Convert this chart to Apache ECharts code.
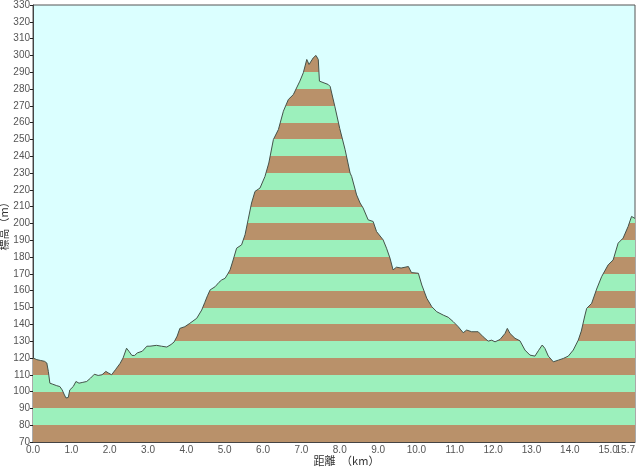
<!DOCTYPE html>
<html>
<head>
<meta charset="utf-8">
<script src="https://cdn.jsdelivr.net/npm/echarts@6/dist/echarts.min.js"></script>
<style>
html,body{margin:0;padding:0;background:#fff;}
#c{width:640px;height:469px;}
</style>
</head>
<body>
<div id="c"></div>
<script>
var distances = [0.00,0.10,0.20,0.30,0.36,0.40,0.44,0.50,0.55,0.62,0.70,0.76,0.82,0.86,0.92,0.96,1.00,1.05,1.12,1.20,1.30,1.40,1.50,1.60,1.70,1.80,1.90,1.97,2.05,2.15,2.27,2.35,2.44,2.50,2.58,2.65,2.72,2.85,2.97,3.05,3.10,3.22,3.35,3.49,3.60,3.68,3.76,3.83,3.96,4.09,4.27,4.40,4.48,4.55,4.62,4.75,4.85,4.92,5.01,5.08,5.14,5.22,5.31,5.44,5.53,5.61,5.70,5.79,5.92,6.05,6.15,6.27,6.40,6.53,6.66,6.79,6.96,7.05,7.14,7.20,7.31,7.38,7.44,7.47,7.70,7.75,7.87,8.00,8.14,8.27,8.31,8.44,8.53,8.61,8.66,8.74,8.87,8.96,9.13,9.22,9.31,9.39,9.48,9.60,9.79,9.87,10.05,10.14,10.27,10.40,10.53,10.70,10.83,10.96,11.09,11.22,11.31,11.44,11.61,11.74,11.87,11.96,12.05,12.18,12.31,12.37,12.44,12.57,12.70,12.83,12.96,13.09,13.18,13.28,13.35,13.44,13.57,13.70,13.83,13.96,14.09,14.22,14.30,14.39,14.44,14.57,14.70,14.83,15.00,15.13,15.26,15.39,15.52,15.61,15.70];
var elevations = [120,119,118.5,118,117,112,105,104.5,104,103.5,103,101,98,96.2,96.5,101,101.5,103,106,105,105.5,106,108,110.3,109.6,110,112,111,110,113,116.7,120,125.8,124,121.5,121.5,123,124,127,127,126.5,127.5,127,126.5,128,129.5,133,137.6,138.6,140.6,143.6,148.5,153,157,160.5,162.4,165,166.4,167.4,170,172.4,178.3,185.3,187.3,193.3,202.2,212.2,219.1,221.1,228,236,250,255.9,266.8,273.8,276.7,284.7,289.7,297.6,294.6,298.6,300,297.6,284.7,282.7,281.5,269.8,256.5,243.9,230,228,217,212.2,209.2,208.2,202.2,201.2,195.2,190.3,185.3,179.4,172.4,174,173.5,174.4,170.8,170.4,163.4,155.5,150.5,147.5,145.5,144.2,141.6,138.6,135,136.6,135.6,135.6,132.6,130,130.6,129.6,131,134.6,137.6,134.6,131.7,130.2,124.7,121.7,121.1,124.3,127.7,125.7,121.1,117.7,118.7,119.7,121.1,124.7,130.6,136,145,149.5,152.5,161,168.4,175.4,178.3,188.3,191.3,198.2,204.2,203];
var xTicks = [0,1,2,3,4,5,6,7,8,9,10,11,12,13,14,15];
var xEndTick = [15.7];
var yMin = 70, yMax = 330, yStep = 10;
var xMin = 0, xMax = 15.7, xStep = 1;
var xName = '距離　（km）';
var yName = '標高（m）';

var BROWN = '#b9916a', GREEN = '#9cf0bc';
var pieces = [];
for (var v = yMin, i = 0; v < yMax; v += yStep, i++) {
  pieces.push({gte: v, lt: v + yStep, color: (i % 2 === 0) ? BROWN : GREEN});
}
var seriesData = distances.map(function (d, k) { return [d, elevations[k]]; });

var xLabelStyle = {margin: 3, color: '#555', fontSize: 10, fontFamily: 'Liberation Sans, Arial, sans-serif',
  formatter: function (v) { return (+v).toFixed(1); }};

var chart = echarts.init(document.getElementById('c'), null, {renderer: 'canvas'});
chart.setOption({
  animation: false,
  grid: {left: 33, right: 5, top: 5, bottom: 27, containLabel: false, outerBoundsMode: 'none', show: true, backgroundColor: '#dbffff', borderColor: '#555', borderWidth: 1},
  xAxis: [{
    type: 'value', min: xMin, max: xMax, interval: xStep,
    name: xName, nameLocation: 'middle', nameGap: 13, nameMoveOverlap: false,
    nameTextStyle: {color: '#333', fontSize: 11, fontFamily: 'Noto Sans CJK JP', padding: [0, 0, 0, 25]},
    axisLine: {show: true, lineStyle: {color: '#444'}},
    axisTick: {show: false},
    splitLine: {show: false},
    axisLabel: Object.assign({customValues: xTicks}, xLabelStyle)
  }, {
    type: 'value', min: xMin, max: xMax, position: 'bottom',
    axisLine: {show: false}, axisTick: {show: false}, splitLine: {show: false},
    axisLabel: Object.assign({customValues: xEndTick, showMaxLabel: true, align: 'right'}, xLabelStyle)
  }],
  yAxis: {
    type: 'value', min: yMin, max: yMax, interval: yStep,
    name: yName, nameLocation: 'middle', nameGap: 24, nameRotate: 90, nameMoveOverlap: false,
    nameTextStyle: {color: '#333', fontSize: 11, fontFamily: 'Noto Sans CJK JP'},
    axisLine: {show: true, lineStyle: {color: '#444'}},
    axisTick: {show: true, length: 3, inside: false, lineStyle: {color: '#222'}},
    splitLine: {show: false},
    axisLabel: {margin: 3, showMaxLabel: true, color: '#555', fontSize: 10, fontFamily: 'Liberation Sans, Arial, sans-serif'}
  },
  visualMap: {
    type: 'piecewise', show: false, dimension: 1, seriesIndex: 0,
    pieces: pieces
  },
  series: [{
    type: 'line',
    xAxisIndex: 0,
    data: seriesData,
    showSymbol: false,
    symbol: 'none',
    smooth: false,
    lineStyle: {color: '#44524a', width: 1},
    areaStyle: {opacity: 1, origin: 'start'}
  }]
});
</script>
</body>
</html>
